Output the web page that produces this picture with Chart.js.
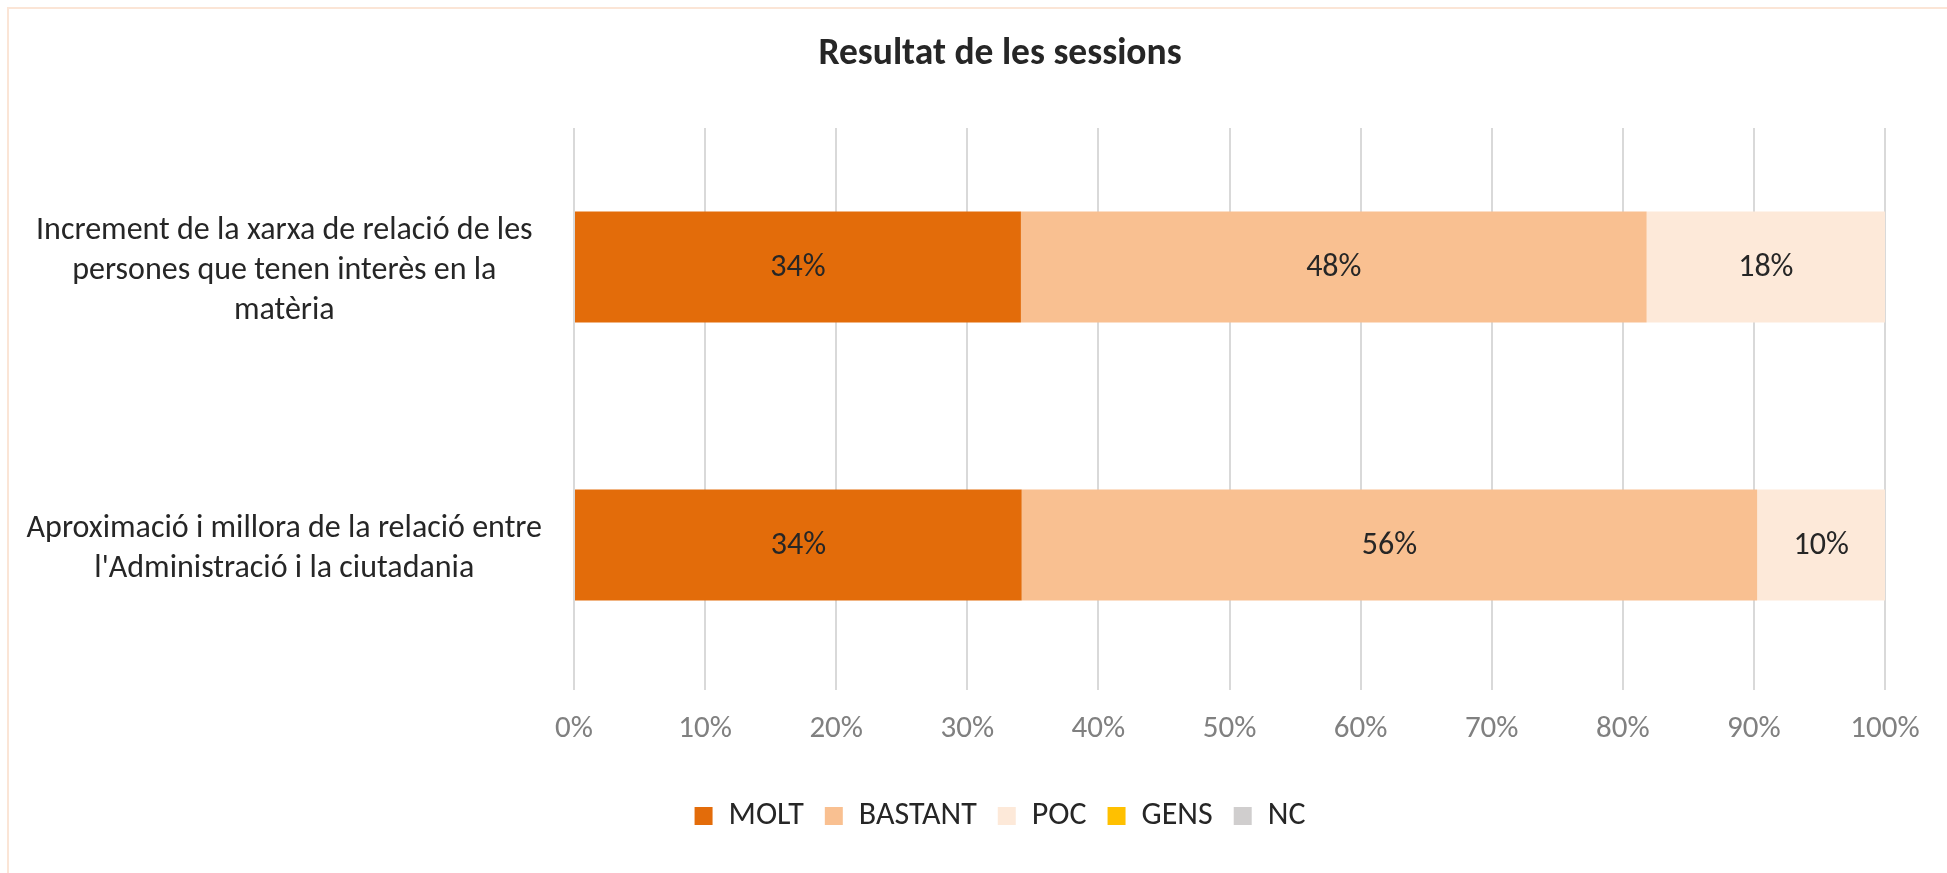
<!DOCTYPE html>
<html>
<head>
<meta charset="utf-8">
<script src="https://cdn.jsdelivr.net/npm/chart.js@4.4.0/dist/chart.umd.min.js"></script>
<style>
  html, body { margin: 0; padding: 0; background: #fff; overflow: hidden; }
  #wrap {
    position: absolute; left: 7px; top: 7px;
    width: 1982px; height: 876px;
    border: 2px solid #FBE5D6;
  }
</style>
</head>
<body>
<div id="wrap"><canvas id="chart"></canvas></div>
<script>
const FONT = 'Carlito, Calibri, "Open Sans", sans-serif';

const categories = [
  ['Increment de la xarxa de relació de les', 'persones que tenen interès en la', 'matèria'],
  ['Aproximació i millora de la relació entre', "l'Administració i la ciutadania"]
];
const molt    = [34.09, 34.15];
const bastant = [47.73, 56.10];
const poc     = [18.18, 9.76];
const gens    = [0, 0];
const nc      = [0, 0];
const xTicks  = [0, 10, 20, 30, 40, 50, 60, 70, 80, 90, 100];

const PLOT_BOTTOM = 675;
const PAD_BOTTOM = 43;

const segLabels = {
  id: 'segLabels',
  afterDatasetsDraw(chart) {
    const { ctx } = chart;
    ctx.save();
    ctx.font = '32px ' + FONT;
    ctx.fillStyle = '#262626';
    ctx.textAlign = 'center';
    ctx.textBaseline = 'middle';
    chart.data.datasets.forEach((ds, i) => {
      chart.getDatasetMeta(i).data.forEach((bar, j) => {
        const v = ds.data[j];
        if (!v) return;
        const p = bar.getProps(['x', 'y', 'base'], true);
        ctx.fillText(Math.round(v) + '%', (p.x + p.base) / 2, p.y + 1);
      });
    });
    ctx.restore();
  }
};

new Chart(document.getElementById('chart'), {
  type: 'bar',
  data: {
    labels: categories,
    datasets: [
      { label: 'MOLT',    data: molt,    backgroundColor: '#E36C0A' },
      { label: 'BASTANT', data: bastant, backgroundColor: '#F9C091' },
      { label: 'POC',     data: poc,     backgroundColor: '#FDE9D9' },
      { label: 'GENS',    data: gens,    backgroundColor: '#FFC000' },
      { label: 'NC',      data: nc,      backgroundColor: '#D0CECE' }
    ]
  },
  options: {
    indexAxis: 'y',
    responsive: true,
    maintainAspectRatio: false,
    animation: false,
    datasets: { bar: { categoryPercentage: 1, barPercentage: 0.4 } },
    layout: { padding: { left: 0, right: 0, top: 0, bottom: PAD_BOTTOM } },
    scales: {
      x: {
        stacked: true, min: 0, max: 100,
        afterBuildTicks: s => { s.ticks = xTicks.map(v => ({ value: v })); },
        afterFit: s => {
          const c = s.chart;
          const lh = c.legend ? c.legend.height : 80;
          s.height = c.height - PAD_BOTTOM - lh - PLOT_BOTTOM;
        },
        grid: { color: '#D9D9D9', lineWidth: 2, tickLength: 6, drawTicks: true },
        border: { display: false },
        ticks: {
          color: '#808080', padding: 21,
          font: { family: FONT, size: 31 },
          callback: v => v + '%'
        }
      },
      y: {
        stacked: true,
        afterFit: s => { s.width = 565; },
        grid: { display: false },
        border: { display: false },
        ticks: {
          color: '#262626', padding: 24, crossAlign: 'center', labelOffset: 4,
          font: { family: FONT, size: 32, lineHeight: 1.24 }
        }
      },
      // empty right-hand margin so the title and legend stay centred on the frame
      yRight: {
        position: 'right',
        afterFit: s => { s.width = 106; },
        grid: { display: false },
        border: { display: false },
        ticks: { display: false }
      }
    },
    plugins: {
      title: {
        display: true,
        text: 'Resultat de les sessions',
        color: '#262626',
        font: { family: FONT, size: 37.5, weight: 'bold' },
        padding: { top: 23.5, bottom: 50.5 }
      },
      legend: {
        position: 'bottom',
        labels: {
          boxWidth: 18, boxHeight: 18, padding: 21,
          color: '#262626',
          font: { family: FONT, size: 32 }
        }
      },
      tooltip: { enabled: false }
    }
  },
  plugins: [segLabels]
});
</script>
</body>
</html>
